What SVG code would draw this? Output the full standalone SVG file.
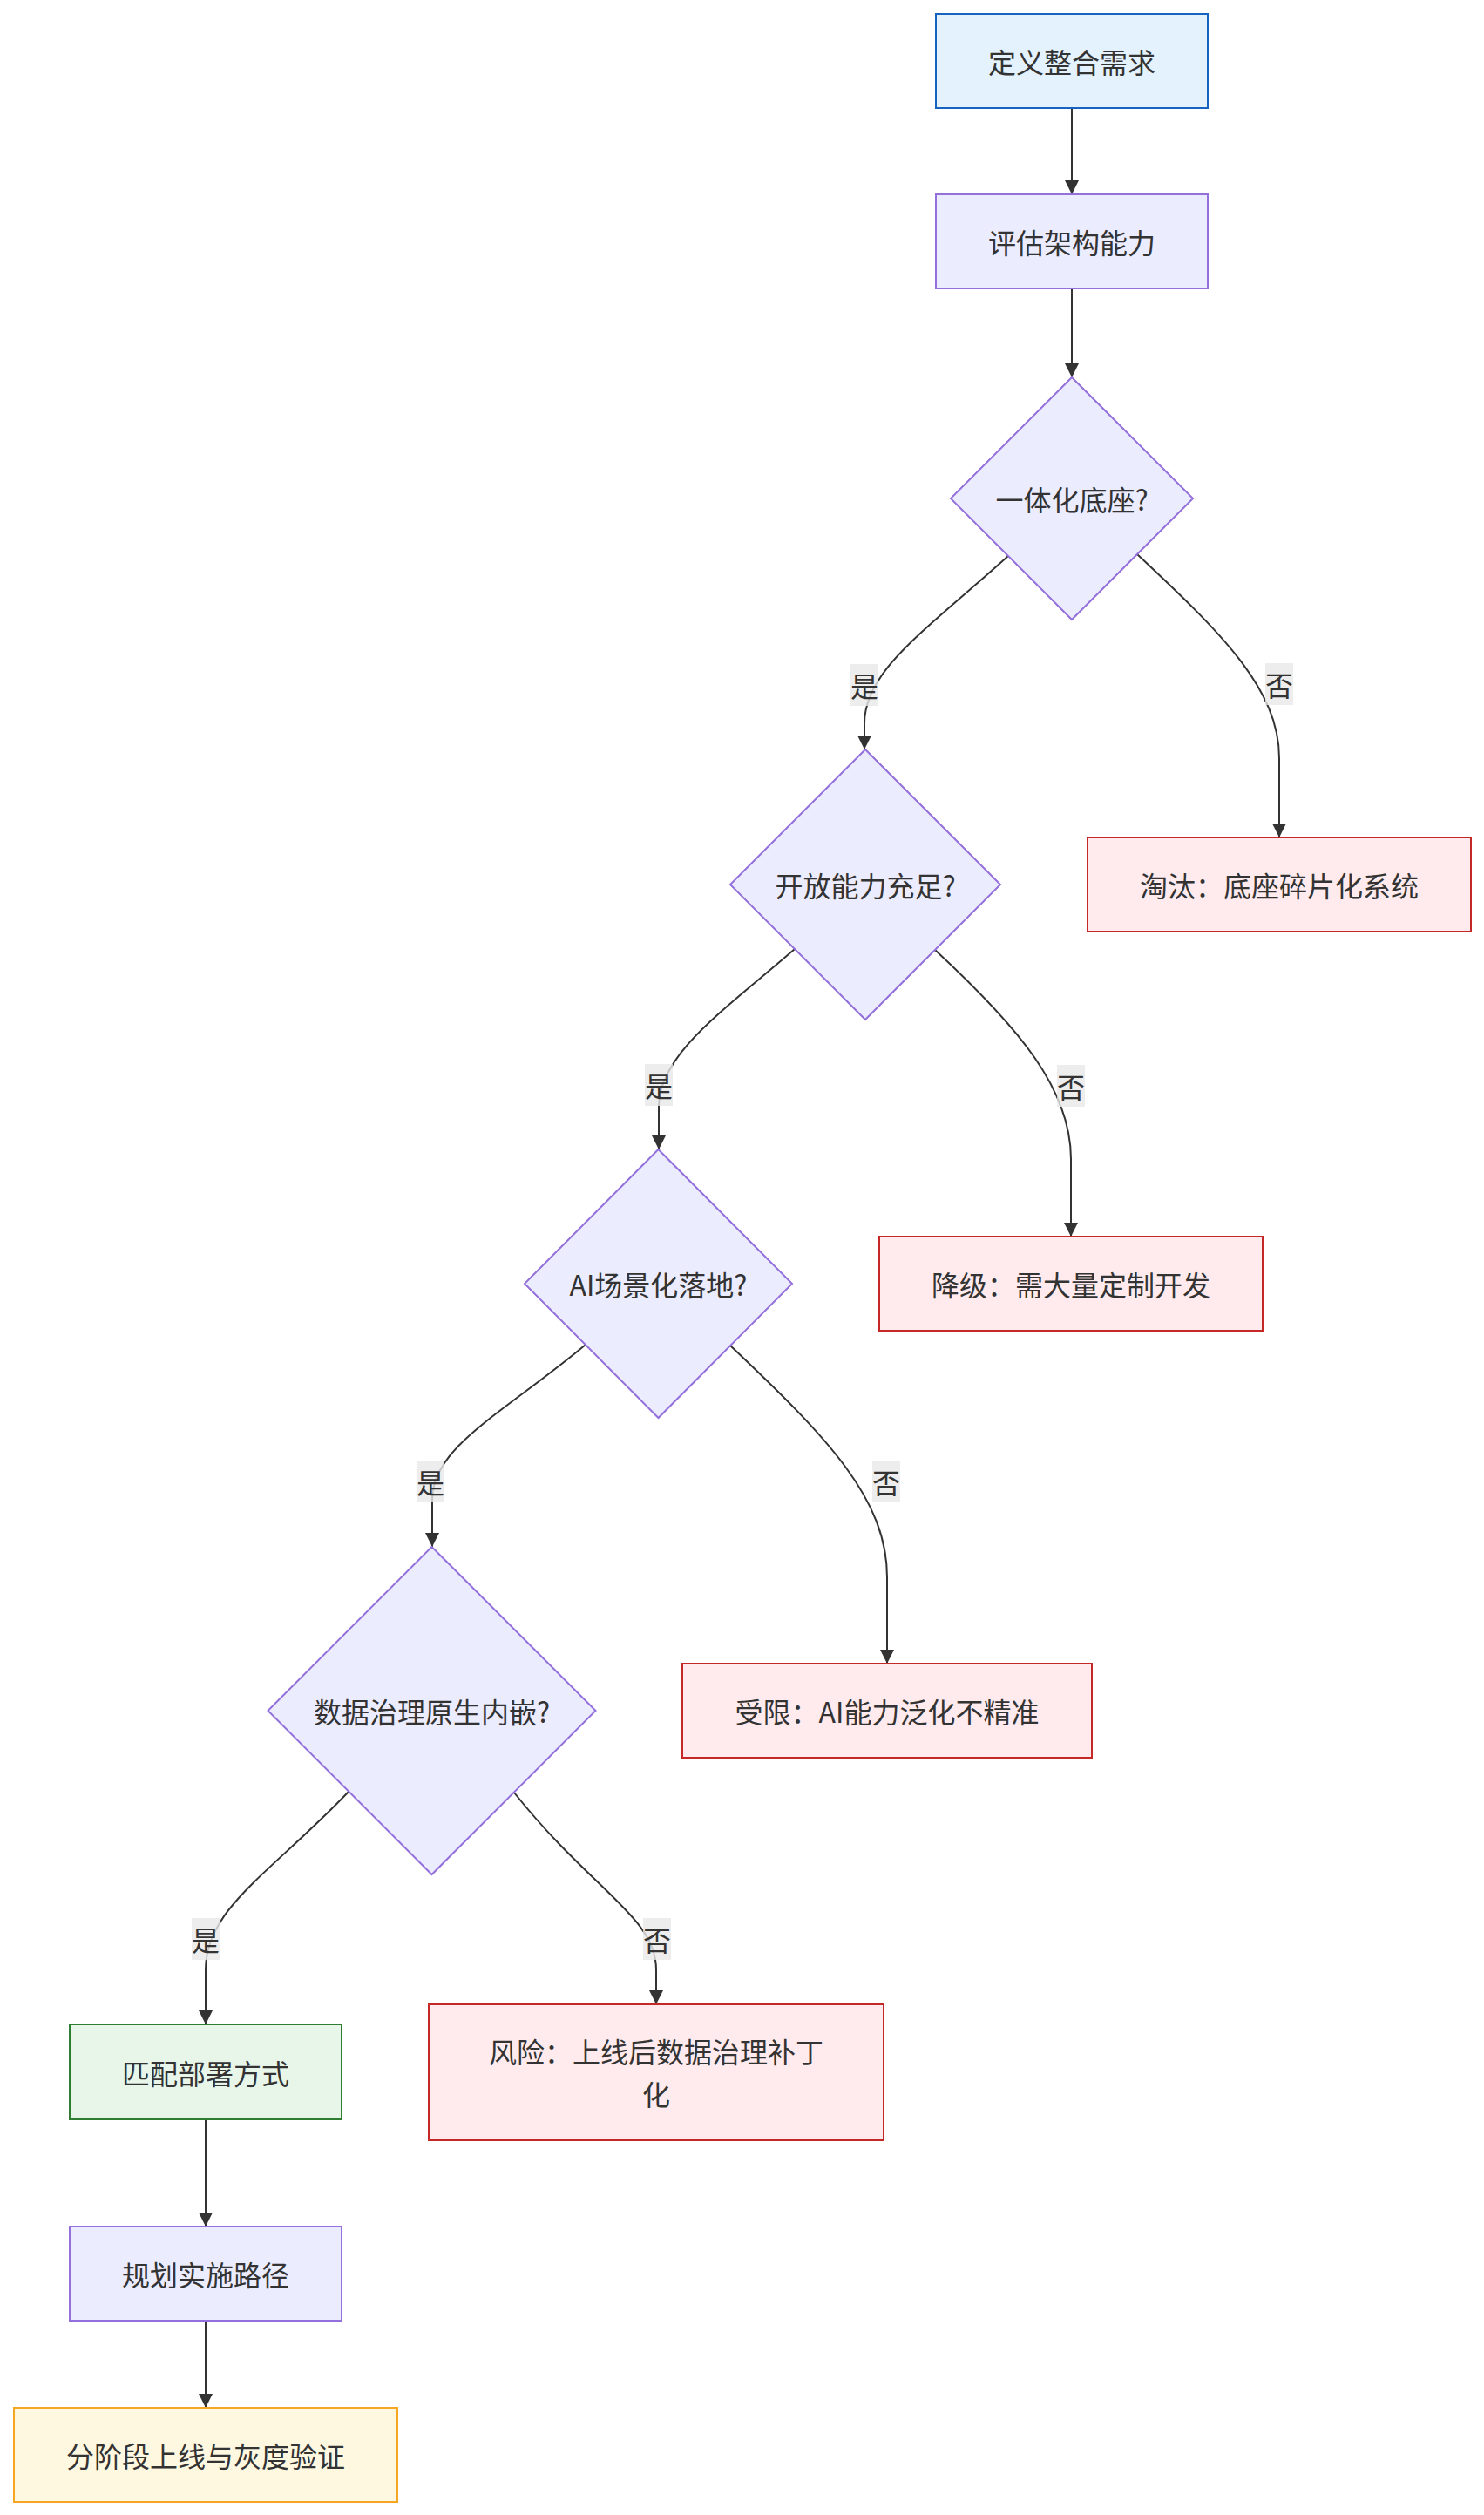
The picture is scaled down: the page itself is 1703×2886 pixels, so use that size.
<svg xmlns="http://www.w3.org/2000/svg" width="1703" height="2886" viewBox="0 0 1703 2886">
<style>
  .lbl { font-family: "Noto Sans CJK SC", "Noto Sans", sans-serif; font-size: 32px; fill: #333333; text-anchor: middle; dominant-baseline: central; }
  .edge { fill: none; stroke: #333333; stroke-width: 2; marker-end: url(#arrow); }
  .elbg { fill: #e8e8e8; opacity: 0.8; }
  .blue { fill: #e3f2fd; stroke: #1565c0; stroke-width: 2; }
  .purple { fill: #ececff; stroke: #9370db; stroke-width: 2; }
  .red { fill: #ffebee; stroke: #c62828; stroke-width: 2; }
  .green { fill: #e8f5e9; stroke: #2e7d32; stroke-width: 2; }
  .yellow { fill: #fff8e1; stroke: #f5a623; stroke-width: 2; }
</style>
<defs>
  <marker id="arrow" viewBox="0 0 10 10" refX="10" refY="5" markerUnits="userSpaceOnUse" markerWidth="16" markerHeight="16" orient="auto">
    <path d="M0,0 L10,5 L0,10 z" fill="#333333"/>
  </marker>
</defs>
<rect width="1703" height="2886" fill="#ffffff"/>

<g id="connectors">
  <path class="edge" d="M1230,124 L1230,223"/>
  <path class="edge" d="M1230,331 L1230,433"/>
  <path class="edge" d="M1157,638 C1060,725 992,770 992,830 L992,860"/>
  <path class="edge" d="M1305,636 C1400,725 1468,790 1468,870 L1468,961"/>
  <path class="edge" d="M912,1089 C830,1160 756,1210 756,1270 L756,1319"/>
  <path class="edge" d="M1073,1090 C1170,1180 1229,1250 1229,1330 L1229,1419"/>
  <path class="edge" d="M672,1543 C580,1620 496,1660 496,1720 L496,1775"/>
  <path class="edge" d="M838,1544 C950,1650 1018,1720 1018,1810 L1018,1909"/>
  <path class="edge" d="M400,2056 C310,2150 236,2190 236,2260 L236,2323"/>
  <path class="edge" d="M590,2057 C680,2170 753,2200 753,2260 L753,2300"/>
  <path class="edge" d="M236,2432 L236,2555"/>
  <path class="edge" d="M236,2663 L236,2763"/>
  <g id="edge-labels">
    <rect class="elbg" x="976" y="762" width="32" height="48"/><text class="lbl" x="992" y="786">是</text>
    <rect class="elbg" x="1452" y="761" width="32" height="48"/><text class="lbl" x="1468" y="785">否</text>
    <rect class="elbg" x="740" y="1221" width="32" height="48"/><text class="lbl" x="756" y="1245">是</text>
    <rect class="elbg" x="1213" y="1222" width="32" height="48"/><text class="lbl" x="1229" y="1246">否</text>
    <rect class="elbg" x="478" y="1676" width="32" height="48"/><text class="lbl" x="494" y="1700">是</text>
    <rect class="elbg" x="1001" y="1676" width="32" height="48"/><text class="lbl" x="1017" y="1700">否</text>
    <rect class="elbg" x="220" y="2201" width="32" height="48"/><text class="lbl" x="236" y="2225">是</text>
    <rect class="elbg" x="738" y="2201" width="32" height="48"/><text class="lbl" x="754" y="2225">否</text>
  </g>
</g>

<g id="n-define"><rect class="blue" x="1074" y="16" width="312" height="108"/><text class="lbl" x="1230" y="70">定义整合需求</text></g>
<g id="n-assess"><rect class="purple" x="1074" y="223" width="312" height="108"/><text class="lbl" x="1230" y="277">评估架构能力</text></g>
<g id="n-d1"><polygon class="purple" points="1230,433 1369,572 1230,711 1091,572"/><text class="lbl" x="1230" y="572">一体化底座?</text></g>
<g id="n-elim"><rect class="red" x="1248" y="961" width="440" height="108"/><text class="lbl" x="1468" y="1015">淘汰：底座碎片化系统</text></g>
<g id="n-d2"><polygon class="purple" points="993,860 1148,1015 993,1170 838,1015"/><text class="lbl" x="993" y="1015">开放能力充足?</text></g>
<g id="n-down"><rect class="red" x="1009" y="1419" width="440" height="108"/><text class="lbl" x="1229" y="1473">降级：需大量定制开发</text></g>
<g id="n-d3"><polygon class="purple" points="755.5,1319 909,1473 755.5,1627 602,1473"/><text class="lbl" x="755.5" y="1473">AI场景化落地?</text></g>
<g id="n-limit"><rect class="red" x="783" y="1909" width="470" height="108"/><text class="lbl" x="1018" y="1963">受限：AI能力泛化不精准</text></g>
<g id="n-d4"><polygon class="purple" points="495.5,1775 683.5,1963 495.5,2151 307.5,1963"/><text class="lbl" x="495.5" y="1963">数据治理原生内嵌?</text></g>
<g id="n-match"><rect class="green" x="80" y="2323" width="312" height="109"/><text class="lbl" x="236" y="2377.5">匹配部署方式</text></g>
<g id="n-risk"><rect class="red" x="492" y="2300" width="522" height="156"/><text class="lbl" x="753" y="2353">风险：上线后数据治理补丁</text><text class="lbl" x="753" y="2402">化</text></g>
<g id="n-plan"><rect class="purple" x="80" y="2555" width="312" height="108"/><text class="lbl" x="236" y="2609">规划实施路径</text></g>
<g id="n-phase"><rect class="yellow" x="16" y="2763" width="440" height="108"/><text class="lbl" x="236" y="2817">分阶段上线与灰度验证</text></g>
</svg>
